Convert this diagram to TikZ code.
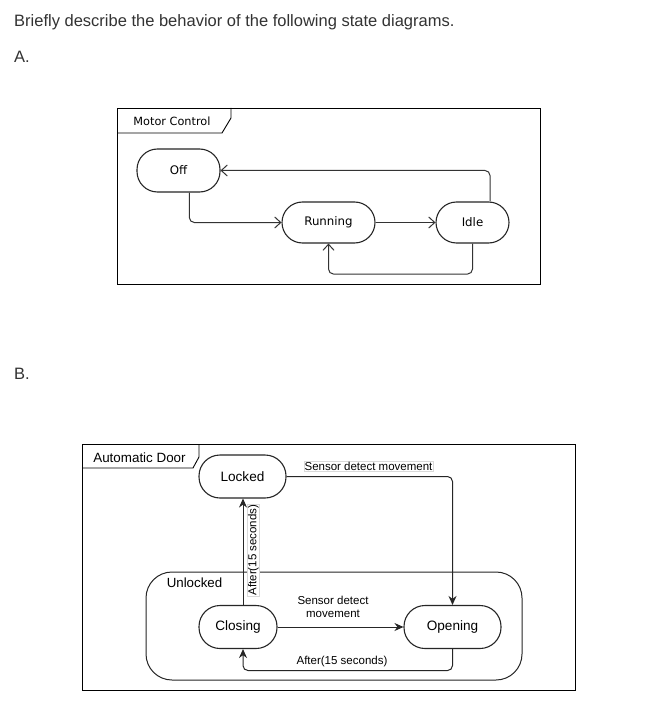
\documentclass[tikz,border=0pt]{standalone}
\usepackage{fontspec}
\setmainfont{Liberation Sans}
\newfontfamily\djv{DejaVu Sans}
\usetikzlibrary{arrows.meta,calc}
\definecolor{txt}{HTML}{333333}
\tikzset{
  frame/.style={draw=black,line width=0.9pt},
  pillA/.style={draw=black!85,line width=1.1pt,rounded corners=20.5pt,inner sep=0pt,font=\djv\fontsize{11.8}{14}\selectfont},
  pillB/.style={draw=black!85,line width=1.1pt,rounded corners=21pt,inner sep=0pt,font=\fontsize{13.6}{16}\selectfont},
  oarr/.style={draw=black!80,line width=1pt,rounded corners=5pt,-{Straight Barb[length=6pt,width=11pt]}},
  farr/.style={draw=black!85,line width=1pt,rounded corners=5pt,-{Stealth[length=9pt,width=8pt]}},
  lbl/.style={font=\fontsize{11.5}{13}\selectfont,inner sep=1pt},
  lblbox/.style={lbl,draw=black!15,fill=white,inner sep=0.6pt,line width=0.6pt},
}
\begin{document}
\begin{tikzpicture}[x=1pt,y=-1pt]
\useasboundingbox[fill=white] (0,0) rectangle (646,719);
% header text
\node[anchor=base west,inner sep=0,text=txt,font=\fontsize{16.5}{19}\selectfont] (title) at (14,27) {Briefly describe the behavior of the following state diagrams.};
\node[anchor=base west,inner sep=0,text=txt,font=\fontsize{16.5}{19}\selectfont] (labA) at (14,63) {A.};
\node[anchor=base west,inner sep=0,text=txt,font=\fontsize{16.5}{19}\selectfont] (labB) at (14,379) {B.};

% ---------- Diagram A ----------
\draw[frame] (117,108) rectangle (540,284);
\draw[frame] (231,108) -- (231,118) -- (222,133) -- (117,133);
\node[inner sep=0,font=\djv\fontsize{11.3}{13}\selectfont] (mc) at (172,121.5) {Motor Control};
\node[pillA,minimum width=83pt,minimum height=43pt] (Off) at (178.5,170.5) {Off};
\node[pillA,minimum width=93pt,minimum height=41pt] (Running) at (328.5,222.5) {Running};
\node[pillA,minimum width=73pt,minimum height=41pt] (Idle) at (472.5,222.5) {Idle};
\draw[oarr] ([xshift=10.8pt]Off.south) |- (Running.west);
\draw[oarr] (Running.east) -- (Idle.west);
\draw[oarr] ([xshift=17.5pt]Idle.north) |- (Off.east);
\draw[oarr] (Idle.south) -- ++(0,30.5) -| (Running.south);

% ---------- Diagram B ----------
\draw[frame] (82,444) rectangle (575,690);
\draw[frame] (199,444) -- (199,457) -- (193,468) -- (82,468);
\node[inner sep=0,font=\fontsize{13.4}{16}\selectfont] (ad) at (139.5,458) {Automatic Door};
\draw[draw=black!85,line width=1pt,rounded corners=26pt] (146,572) rectangle (522,680);
\node[inner sep=0,font=\fontsize{13.3}{16}\selectfont] (ul) at (194.5,583) {Unlocked};
\node[pillB,minimum width=87pt,minimum height=43pt] (Locked) at (242.5,476.5) {Locked};
\node[pillB,minimum width=78pt,minimum height=43pt] (Closing) at (238,627) {Closing};
\node[pillB,minimum width=97pt,minimum height=43pt] (Opening) at (452.5,627) {Opening};

\draw[farr] ([xshift=5pt]Closing.north) -- ([xshift=5pt]Closing.north |- Locked.south);
\node[lblbox,rotate=90] (l1) at (253.5,550) {After(15 seconds)};
\draw[farr] (Locked.east) -| (Opening.north);
\node[lblbox] (l2) at (368.5,466.5) {Sensor detect movement};
\draw[farr] (Closing.east) -- (Opening.west);
\node[lbl,align=center] (l3) at (333,607) {Sensor detect\\movement};
\draw[farr] (Opening.south) -- ++(0,21.5) -| ([xshift=5pt]Closing.south);
\node[lbl] (l4) at (342,661.5) {After(15 seconds)};
\end{tikzpicture}
\end{document}
